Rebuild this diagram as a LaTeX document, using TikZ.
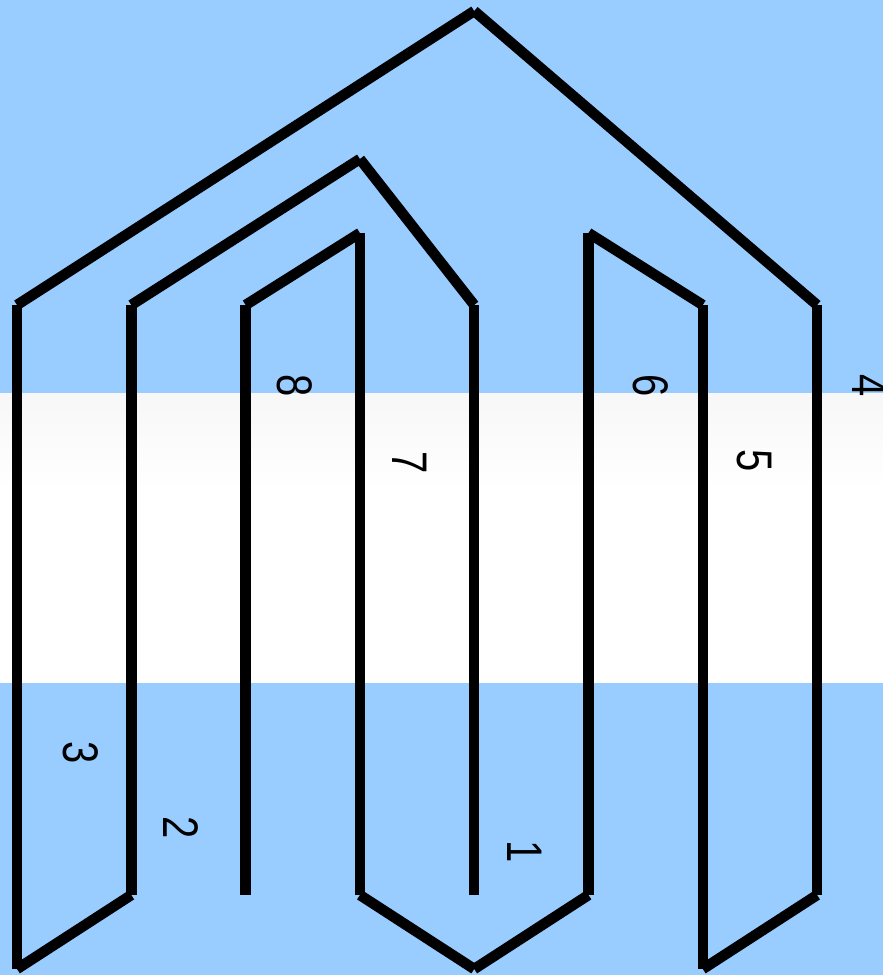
\documentclass[tikz,border=0pt]{standalone}
\usepackage{fontspec}
\setmainfont{Liberation Sans}
\usepackage{graphicx}
\definecolor{skyband}{RGB}{153,204,255}
\definecolor{paleband}{RGB}{247,247,247}
\begin{document}
\begin{tikzpicture}[x=1pt,y=-1pt,
  seg/.style={line width=10.5pt,line cap=butt,black},
  numlabel/.style={rotate=-90,inner sep=0pt,font=\fontsize{50}{50}\selectfont}]
\useasboundingbox (0,0) rectangle (883,975);
% background bands
\fill[skyband] (0,0) rectangle (883,393);
\fill[white] (0,393) rectangle (883,683);
\shade[top color=paleband,bottom color=white,shading angle=0] (0,393) rectangle (883,490);
\fill[skyband] (0,683) rectangle (883,975);
% coordinates
\coordinate (a1) at (474.2,895);
\coordinate (a2) at (474.2,305);
\coordinate (a3) at (359.9,159);
\coordinate (a4) at (131.3,305);
\coordinate (a5) at (131.3,895);
\coordinate (a6) at (17,969);
\coordinate (a7) at (17,895);
\coordinate (a8) at (17,305);
\coordinate (a9) at (474.2,11);
\coordinate (a10) at (817.1,305);
\coordinate (a11) at (817.1,895);
\coordinate (a12) at (702.8,969);
\coordinate (a13) at (702.8,895);
\coordinate (a14) at (702.8,305);
\coordinate (a15) at (588.5,233);
\coordinate (a16) at (588.5,305);
\coordinate (a17) at (588.5,895);
\coordinate (a18) at (474.2,969);
\coordinate (a19) at (359.9,895);
\coordinate (a20) at (359.9,305);
\coordinate (a21) at (359.9,233);
\coordinate (a22) at (245.6,305);
\coordinate (a23) at (245.6,895);
% segments
\foreach \p/\q in {a1/a2,a2/a3,a3/a4,a4/a5,a5/a6,a6/a7,a7/a8,a8/a9,a9/a10,a10/a11,a11/a12,a12/a13,a13/a14,a14/a15,a15/a16,a16/a17,a17/a18,a18/a19,a19/a20,a20/a21,a21/a22,a22/a23}
  \draw[seg] (\p) -- (\q);
% labels
\node[numlabel] (n1) at (525,852) {\scalebox{0.8}[1]{1}};
\node[numlabel] (n2) at (181,828) {\scalebox{0.8}[1]{2}};
\node[numlabel] (n3) at (81,753) {\scalebox{0.8}[1]{3}};
\node[numlabel] (n4) at (870,385.5) {\scalebox{0.8}[1]{4}};
\node[numlabel] (n5) at (754,461) {\scalebox{0.8}[1]{5}};
\node[numlabel] (n6) at (651,386) {\scalebox{0.8}[1]{6}};
\node[numlabel] (n7) at (410,463) {\scalebox{0.8}[1]{7}};
\node[numlabel] (n8) at (295,386) {\scalebox{0.8}[1]{8}};
\end{tikzpicture}
\end{document}
